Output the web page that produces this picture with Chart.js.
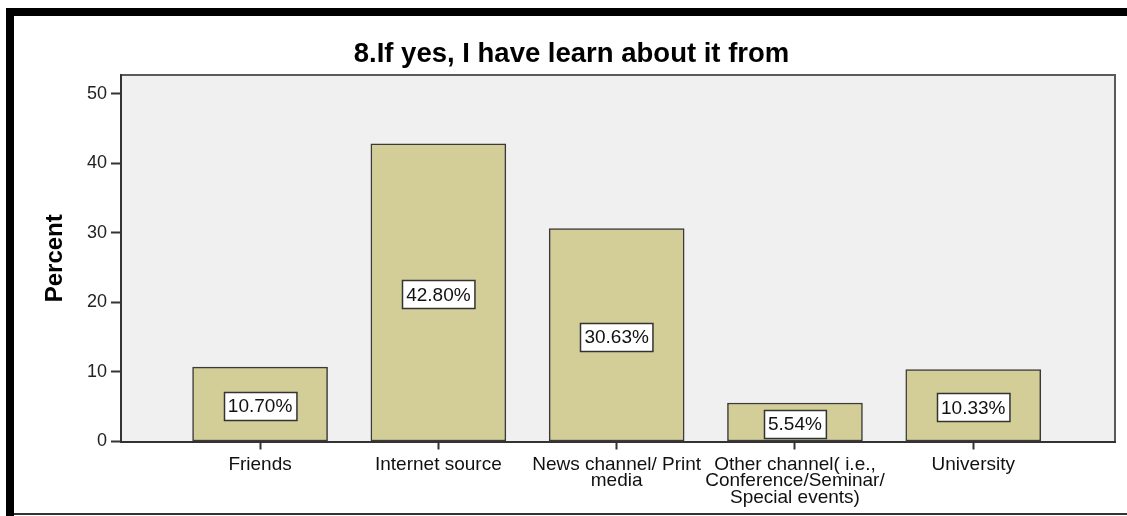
<!DOCTYPE html>
<html>
<head>
<meta charset="utf-8">
<script src="https://cdn.jsdelivr.net/npm/chart.js@4.4.1/dist/chart.umd.min.js"></script>
<style>
  html, body { margin: 0; padding: 0; background: #fff; }
  canvas { display: block; }
</style>
</head>
<body>
<canvas id="sourceChart" width="1127" height="516"></canvas>
<script>
// Survey answers: where respondents learned about it
const categories = [
  ['Friends'],
  ['Internet source'],
  ['News channel/ Print', 'media'],
  ['Other channel( i.e.,', 'Conference/Seminar/', 'Special events)'],
  ['University']
];
const percents = [10.70, 42.80, 30.63, 5.54, 10.33];
const yTicks = [0, 10, 20, 30, 40, 50];

const FONT = "'Liberation Sans', Arial, sans-serif";
const barFill = '#d3ce98';
const plotBg = '#f0f0f0';

// outer frame + grey plot panel
const panelPlugin = {
  id: 'panel',
  beforeDraw(chart) {
    const { ctx, chartArea: a, width, height } = chart;
    ctx.save();
    ctx.fillStyle = '#fff';
    ctx.fillRect(0, 0, width, height);
    ctx.fillStyle = '#000';
    ctx.fillRect(6, 8, 8, height - 8);
    ctx.fillRect(6, 8, width - 6, 8);
    ctx.fillStyle = '#333';
    ctx.fillRect(14, height - 3, width - 14, 2);

    ctx.fillStyle = plotBg;
    ctx.fillRect(a.left, a.top, a.right - a.left, a.bottom - a.top);
    ctx.strokeStyle = '#5a5a5a';
    ctx.lineWidth = 2;
    ctx.beginPath();
    ctx.moveTo(a.left, a.top);
    ctx.lineTo(a.right, a.top);
    ctx.lineTo(a.right, a.bottom);
    ctx.stroke();
    ctx.restore();
  }
};

// white boxed percentage in the middle of each bar
const valueBoxPlugin = {
  id: 'valueBoxes',
  afterDatasetsDraw(chart) {
    const { ctx } = chart;
    const meta = chart.getDatasetMeta(0);
    ctx.save();
    ctx.font = `19px ${FONT}`;
    ctx.textAlign = 'center';
    ctx.textBaseline = 'middle';
    meta.data.forEach((bar, i) => {
      const text = percents[i].toFixed(2) + '%';
      const w = ctx.measureText(text).width + 8;
      const h = 28;
      const cy = (bar.y + bar.base) / 2 + 2;
      const x0 = Math.round(bar.x - w / 2) + 0.5;
      const y0 = Math.round(cy - h / 2) + 0.5;
      ctx.fillStyle = '#fff';
      ctx.fillRect(x0, y0, w, h);
      ctx.strokeStyle = '#333';
      ctx.lineWidth = 1.5;
      ctx.strokeRect(x0, y0, w, h);
      ctx.fillStyle = '#111';
      ctx.fillText(text, bar.x, cy + 1);
    });
    ctx.restore();
  }
};

new Chart(document.getElementById('sourceChart'), {
  type: 'bar',
  data: {
    datasets: [{
      data: percents.map((v, i) => ({ x: i, y: v })),
      backgroundColor: barFill,
      borderColor: '#3a3a3a',
      borderWidth: 1.5,
      borderSkipped: false,
      barThickness: 135
    }]
  },
  options: {
    responsive: false,
    animation: false,
    layout: { padding: { left: 28, right: 12, top: 0, bottom: 0 } },
    plugins: {
      legend: { display: false },
      tooltip: { enabled: false },
      title: {
        display: true,
        text: '8.If yes, I have learn about it from',
        color: '#000',
        font: { family: FONT, size: 27.5, weight: 'bold', lineHeight: 1.2 },
        padding: { top: 38, bottom: 4 }
      }
    },
    scales: {
      x: {
        type: 'linear',
        offset: false,
        min: -0.78,
        max: 4.795,
        afterBuildTicks(scale) {
          scale.ticks = categories.map((_, i) => ({ value: i }));
        },
        afterFit(scale) { scale.height = 74.5; },
        grid: {
          offset: false,
          drawOnChartArea: false,
          drawTicks: true,
          tickLength: 8,
          tickWidth: 2,
          tickColor: '#333'
        },
        border: { color: '#333', width: 2 },
        ticks: {
          autoSkip: false,
          maxRotation: 0,
          padding: 7,
          color: '#111',
          font: { family: FONT, size: 19, lineHeight: '16.5px' },
          callback: (v) => categories[v]
        }
      },
      y: {
        min: 0,
        max: 52.7,
        afterBuildTicks(scale) {
          scale.ticks = yTicks.map(v => ({ value: v }));
        },
        afterFit(scale) { scale.width = 93; },
        grid: {
          drawOnChartArea: false,
          drawTicks: true,
          tickLength: 10,
          tickWidth: 2,
          tickColor: '#333'
        },
        border: { color: '#333', width: 2 },
        ticks: {
          padding: 4,
          color: '#222',
          font: { family: FONT, size: 18 }
        },
        title: {
          display: true,
          text: 'Percent',
          color: '#000',
          font: { family: FONT, size: 24, weight: 'bold', lineHeight: 1.2 },
          padding: { top: 13, bottom: 0 }
        }
      }
    }
  },
  plugins: [panelPlugin, valueBoxPlugin]
});
</script>
</body>
</html>
